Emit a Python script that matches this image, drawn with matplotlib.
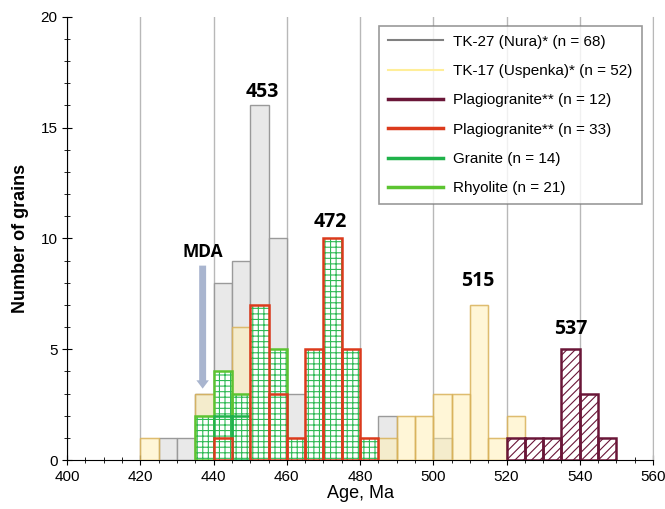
import matplotlib.pyplot as plt
from matplotlib.ticker import MultipleLocator

plt.rcParams["font.family"] = ["Liberation Sans", "DejaVu Sans"]
plt.rcParams["hatch.linewidth"] = 0.8

BIN = 5

# left edge of each 5 Ma bin and number of grains
nura_left = [425, 430, 435, 440, 445, 450, 455, 460, 485, 500]
nura_n = [1, 1, 3, 8, 9, 16, 10, 3, 2, 1]

uspenka_left = [420, 435, 445, 485, 490, 495, 500, 505, 510, 515, 520]
uspenka_n = [1, 3, 6, 1, 2, 2, 3, 3, 7, 1, 2]

plag12_left = [520, 525, 530, 535, 540, 545]
plag12_n = [1, 1, 1, 5, 3, 1]

plag33_left = [440, 450, 455, 460, 465, 470, 475, 480]
plag33_n = [1, 7, 3, 1, 5, 10, 5, 1]

granite_left = [440, 445]
granite_n = [2, 2]

rhyolite_left = [435, 440, 445, 455]
rhyolite_n = [2, 4, 3, 5]

peak_ages = [453, 472, 515, 537]
peak_x = [453.2, 472, 512, 537.5]
peak_y = [16.6, 10.75, 8.1, 5.9]

legend_labels = [
    "TK-27 (Nura)* (n = 68)",
    "TK-17 (Uspenka)* (n = 52)",
    "Plagiogranite** (n = 12)",
    "Plagiogranite** (n = 33)",
    "Granite (n = 14)",
    "Rhyolite (n = 21)",
]

GRAY_FILL, GRAY_EDGE = "#e9e9e9", "#9a9a9a"
YELLOW_FILL, YELLOW_EDGE = "#ffefb0", "#d9b25a"
MAROON = "#6a1638"
RED = "#dc3a1c"
GREEN = "#1fb24a"
LIGHT_GREEN = "#5cc431"
HATCH_GREEN = "#2fba55"


def hatched(ax, left, n, edge, hatch_color, hatch, lw, z):
    # hatch takes the edge colour, so draw fill+hatch first, then the outline
    ax.bar(left, n, width=BIN, align="edge", color="white", edgecolor=hatch_color,
           hatch=hatch, linewidth=0, zorder=z)
    ax.bar(left, n, width=BIN, align="edge", fill=False, edgecolor=edge,
           linewidth=lw, zorder=z + 0.1)


fig = plt.figure(figsize=(6.65, 5.09), dpi=100)
ax = fig.add_axes([0.101, 0.096, 0.881, 0.871])

ax.bar(nura_left, nura_n, width=BIN, align="edge", color=GRAY_FILL,
       edgecolor=GRAY_EDGE, linewidth=1, zorder=2)
ax.bar(uspenka_left, uspenka_n, width=BIN, align="edge", color=YELLOW_FILL,
       alpha=0.5, edgecolor=YELLOW_EDGE, linewidth=1, zorder=3)
ax.bar(uspenka_left, uspenka_n, width=BIN, align="edge", fill=False,
       edgecolor=YELLOW_EDGE, alpha=0.7, linewidth=1, zorder=3.1)

hatched(ax, plag12_left, plag12_n, MAROON, MAROON, "////", 1.8, 4)
hatched(ax, rhyolite_left, rhyolite_n, LIGHT_GREEN, HATCH_GREEN, "+++", 1.8, 5)
hatched(ax, granite_left, granite_n, GREEN, HATCH_GREEN, "+++", 1.8, 6)
hatched(ax, plag33_left, plag33_n, RED, HATCH_GREEN, "+++", 1.8, 7)

for age, x, y in zip(peak_ages, peak_x, peak_y):
    ax.text(x, y, str(age), ha="center", va="center", fontsize=14,
            fontweight="bold", family=["Open Sans", "DejaVu Sans"], zorder=10)

ax.text(437, 9.4, "MDA", ha="center", va="center", fontsize=12.5,
        fontweight="bold", family=["Open Sans", "DejaVu Sans"], zorder=10)
ax.annotate("", xy=(437, 3.1), xytext=(437, 8.9),
            arrowprops=dict(arrowstyle="simple,head_width=0.9,head_length=0.6,tail_width=0.5",
                            color="#a9b5cf", lw=0), zorder=10)

# legend
handles = []
for c, lw in [("#808080", 1.5), ("#ffee99", 1.5), (MAROON, 2.5), (RED, 2.5),
              (GREEN, 2.5), (LIGHT_GREEN, 2.5)]:
    handles += ax.plot([], [], color=c, linewidth=lw)
leg = ax.legend(handles, legend_labels, loc="upper right", fontsize=11,
                frameon=True, fancybox=False, edgecolor="#808080",
                handlelength=3.6, handletextpad=0.65, labelspacing=1.0,
                borderpad=0.6, borderaxespad=0,
                bbox_to_anchor=(0.981, 0.98))
leg.get_frame().set_linewidth(1.2)
leg.set_zorder(20)

ax.set_xlim(400, 560)
ax.set_ylim(0, 20)
ax.xaxis.set_major_locator(MultipleLocator(20))
ax.xaxis.set_minor_locator(MultipleLocator(5))
ax.yaxis.set_major_locator(MultipleLocator(5))
ax.yaxis.set_minor_locator(MultipleLocator(1))
ax.tick_params(which="both", direction="inout", labelsize=11, color="black")
ax.tick_params(which="major", length=7)
ax.tick_params(which="minor", length=5)
ax.grid(axis="x", which="major", color="#b8b8b8", linewidth=1, zorder=0)
ax.set_axisbelow(True)

ax.spines["top"].set_visible(False)
ax.spines["right"].set_color("#b8b8b8")

ax.set_xlabel("Age, Ma", fontsize=13, labelpad=1)
ax.set_ylabel("Number of grains", fontsize=13, fontweight="bold", labelpad=8)

fig.savefig("out.png", dpi=100)
